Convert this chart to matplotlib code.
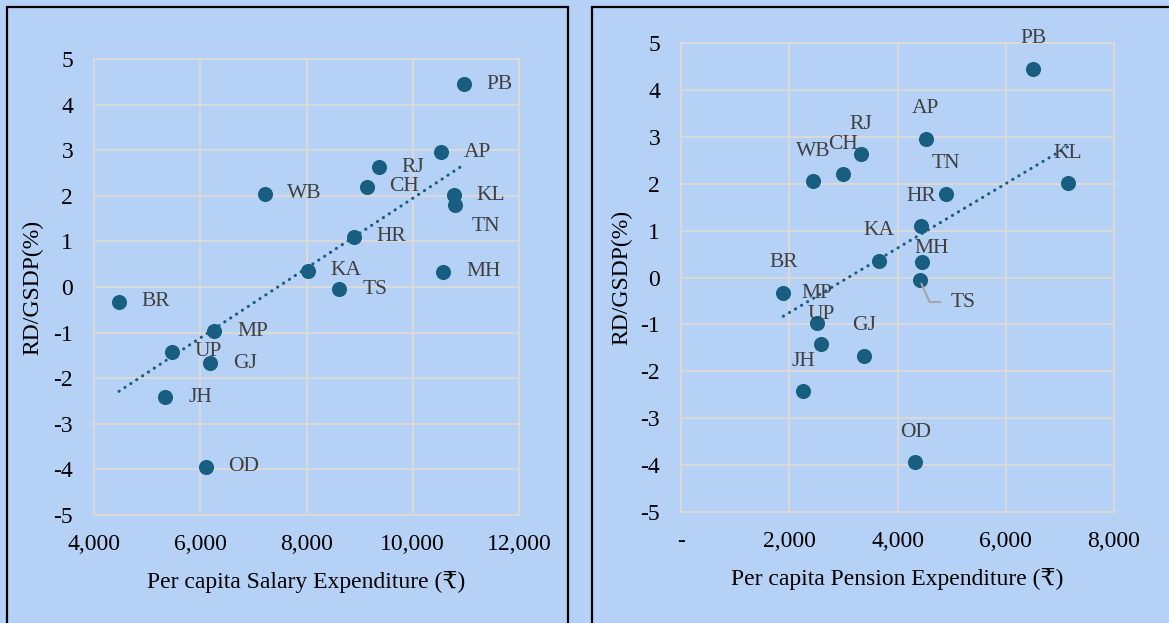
import numpy as np
import matplotlib
matplotlib.use("Agg")
import matplotlib.pyplot as plt
from matplotlib.patches import Rectangle
from matplotlib.ticker import FuncFormatter, MultipleLocator

plt.rcParams["font.family"] = ["Liberation Serif", "DejaVu Serif"]

# ---- data -------------------------------------------------------------
states = ["PB", "AP", "RJ", "CH", "WB", "KL", "TN", "HR", "KA",
          "MH", "TS", "BR", "MP", "UP", "GJ", "JH", "OD"]
rd_gsdp = [4.45, 2.96, 2.63, 2.20, 2.05, 2.01, 1.79, 1.10, 0.36,
           0.33, -0.05, -0.32, -0.97, -1.42, -1.67, -2.42, -3.94]
salary_pc = [10960, 10530, 9360, 9130, 7210, 10770, 10790, 8890, 8020,
             10570, 8620, 4470, 6260, 5470, 6190, 5340, 6100]
pension_pc = [6510, 4520, 3330, 2990, 2440, 7150, 4890, 4440, 3650,
              4450, 4410, 1890, 2510, 2590, 3380, 2260, 4330]

# label offsets (points) for the pension panel; default is straight above
pension_label_offset = {"MH": (7, 10)}

BG = "#B5D1F6"
DOT = "#175E80"
GRID = "#D9D9D9"
ZERO = "#BFBFBF"
LABEL = "#404040"

TICK_FS = 17
TITLE_FS = 17
LABEL_FS = 15.5

W, H = 1169, 623
fig = plt.figure(figsize=(W / 100, H / 100), dpi=100, facecolor=BG)


def px_axes(x0, x1, ytop, ybot):
    return fig.add_axes([x0 / W, (H - ybot) / H, (x1 - x0) / W, (ybot - ytop) / H])


def style_axes(ax, xlim, xfmt, ylabel_x):
    ax.set_facecolor(BG)
    ax.set_xlim(*xlim)
    ax.set_ylim(-5, 5)
    ax.xaxis.set_major_locator(MultipleLocator(2000))
    ax.yaxis.set_major_locator(MultipleLocator(1))
    ax.xaxis.set_major_formatter(FuncFormatter(xfmt))
    ax.yaxis.set_major_formatter(FuncFormatter(lambda v, p: f"{v:.0f}"))
    ax.grid(True, color=GRID, lw=1.5, zorder=0)
    ax.axhline(0, color=ZERO, lw=1.5, zorder=1)
    for s in ax.spines.values():
        s.set_color(GRID)
        s.set_linewidth(1.5)
    ax.tick_params(length=0, labelsize=TICK_FS, colors="black")
    ax.tick_params(axis="y", pad=15)
    ax.tick_params(axis="x", pad=14)
    ax.set_ylabel("RD/GSDP(%)", fontsize=TITLE_FS)
    ax.yaxis.set_label_coords(ylabel_x, 0.5)


def trend(ax, x, y):
    x = np.asarray(x, float)
    y = np.asarray(y, float)
    m, c = np.polyfit(x, y, 1)
    xs = np.array([x.min(), x.max()])
    ax.plot(xs, m * xs + c, color=DOT, lw=2.2, linestyle=(0, (0.1, 2.2)),
            dash_capstyle="round", zorder=2)


# ---- left: salary ---------------------------------------------------------
ax1 = px_axes(94, 519, 59, 515)
style_axes(ax1, (4000, 12000), lambda v, p: f"{v:,.0f}", (43 - 94) / 425)
ax1.scatter(salary_pc, rd_gsdp, s=118, color=DOT, zorder=3, linewidths=0)
trend(ax1, salary_pc, rd_gsdp)
for st, xv, yv in zip(states, salary_pc, rd_gsdp):
    off = (12, -15) if st == "TN" else (16.5, 0)
    ax1.annotate(st, (xv, yv), xytext=off, textcoords="offset points",
                 ha="left", va="center", fontsize=LABEL_FS, color=LABEL, zorder=4)
ax1.set_xlabel("Per capita Salary Expenditure (₹)", fontsize=TITLE_FS, labelpad=11)

# ---- right: pension -------------------------------------------------------
ax2 = px_axes(681, 1114, 43, 512)
style_axes(ax2, (0, 8000), lambda v, p: "-" if v == 0 else f"{v:,.0f}",
           (632 - 681) / 433)
ax2.scatter(pension_pc, rd_gsdp, s=118, color=DOT, zorder=3, linewidths=0)
trend(ax2, pension_pc, rd_gsdp)
for st, xv, yv in zip(states, pension_pc, rd_gsdp):
    if st == "TS":
        ax2.annotate(st, (xv, yv), xytext=(22, -16), textcoords="offset points",
                     ha="left", va="center", fontsize=LABEL_FS, color=LABEL, zorder=4,
                     arrowprops=dict(arrowstyle="-", color="#A6A6A6", lw=1.5,
                                     connectionstyle="angle,angleA=0,angleB=-66,rad=0",
                                     shrinkA=5, shrinkB=3))
        continue
    dx, dy = pension_label_offset.get(st, (0, 21.5))
    ax2.annotate(st, (xv, yv), xytext=(dx, dy), textcoords="offset points",
                 ha="center", va="center", fontsize=LABEL_FS, color=LABEL, zorder=4)
ax2.set_xlabel("Per capita Pension Expenditure (₹)", fontsize=TITLE_FS, labelpad=11)

# ---- panel frames ---------------------------------------------------------
for x0, x1 in [(7, 568), (592, W + 20)]:
    fig.add_artist(Rectangle((x0 / W, -0.1), (x1 - x0) / W, 1.1 - 7 / H,
                             transform=fig.transFigure, fill=False,
                             edgecolor="black", lw=1.6, zorder=10))

fig.savefig("out.png", dpi=100, facecolor=BG)
